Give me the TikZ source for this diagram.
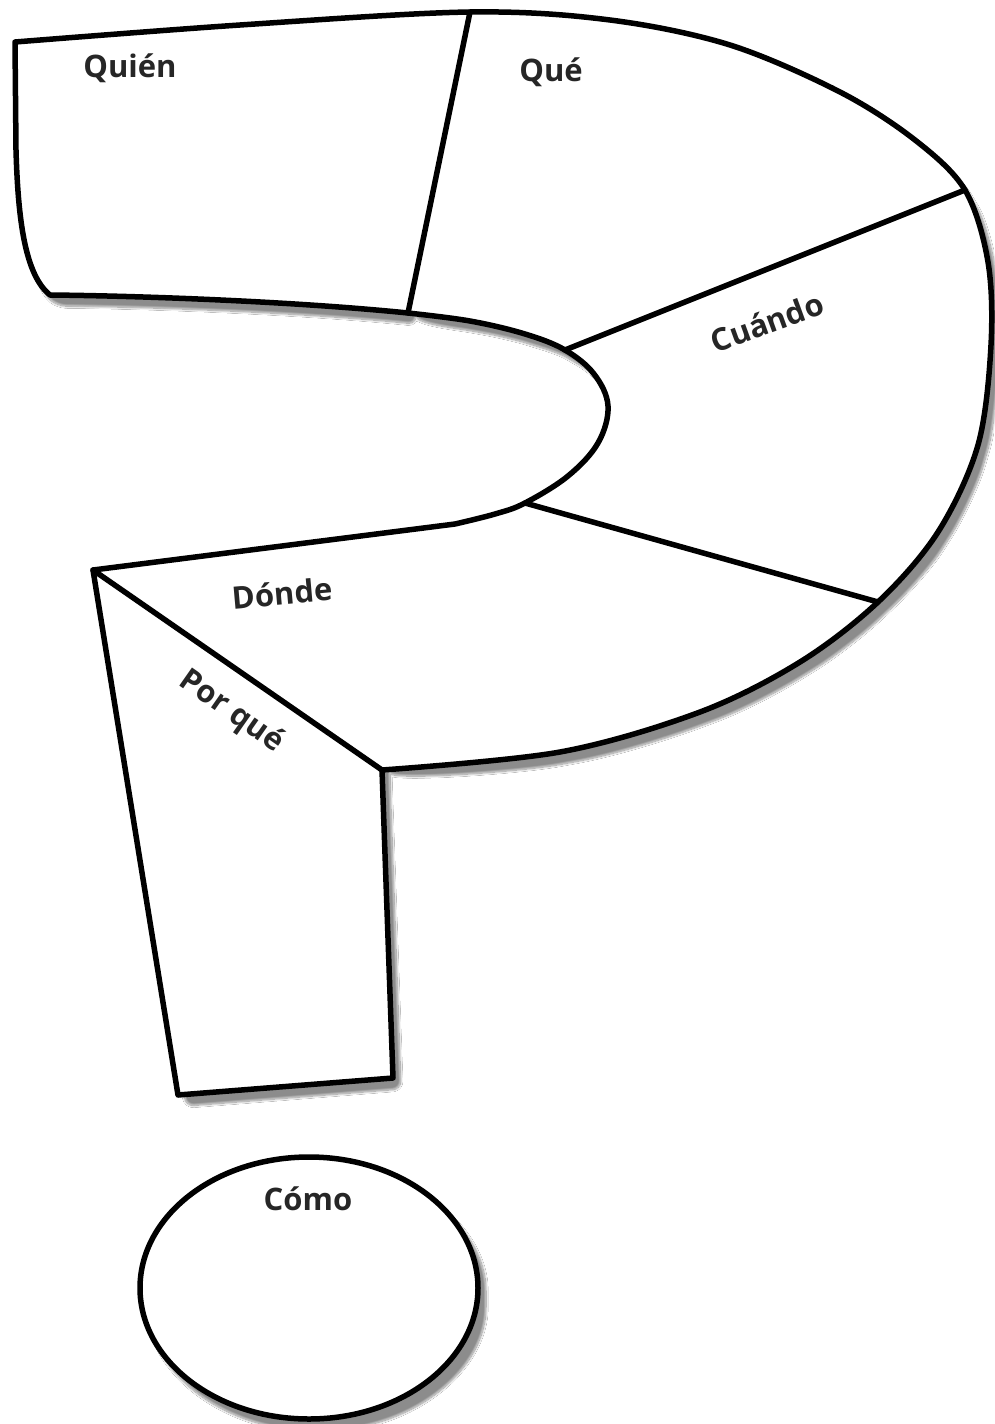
\documentclass[tikz,border=0pt]{standalone}
\usepackage{fontspec}
\setmainfont{Open Sans}
\usetikzlibrary{shadows.blur,shapes.geometric}
\tikzset{
  qshape/.style={draw=black, line width=5.5pt, line join=round, fill=white,
    blur shadow={shadow xshift=8pt, shadow yshift=-11pt, shadow opacity=45, shadow blur steps=14, shadow blur extra rounding=8pt}},
  divider/.style={draw=black, line width=5.5pt, line cap=round},
  lbl/.style={font=\fontsize{31}{34}\selectfont\bfseries, text=black!85, inner sep=0pt}
}
\begin{document}
\begin{tikzpicture}[x=1pt,y=-1pt]
\useasboundingbox (0,0) rectangle (994,1424);
\fill[white] (0,0) rectangle (994,1424);
% named points
\coordinate (tl) at (15,42);
\coordinate (q1) at (470,12);
\coordinate (q2) at (408,313);
\coordinate (c1) at (965,190);
\coordinate (c2) at (565,350);
\coordinate (d1) at (525,503);
\coordinate (d2) at (878,602);
\coordinate (hb) at (382,770);
\coordinate (pq) at (93,570);
\coordinate (sb) at (393,1078);
\coordinate (sl) at (178,1095);
\coordinate (qb) at (45,295);
% main question-mark body
\path[qshape]
  plot[smooth, tension=0.55] coordinates {(15,42) (240,25) (470,12) (610,20) (730,45) (840,92) (915,140) (965,190) (988,262) (991,345) (978,445) (938,532) (878,602) (800,662) (700,712) (560,752) (382,770)}
  -- (393,1078) -- (178,1095) -- (93,570) -- (455,524)
  -- plot[smooth, tension=0.6] coordinates {(455,524) (495,514) (525,503) (568,476) (598,443) (608,406) (594,374) (565,350) (525,334) (470,321) (408,313)}
  .. controls (300,302) and (150,296) .. (50,295)
  .. controls (25,275) and (18,220) .. (16,150) -- cycle;
% dividers
\draw[divider] (q1) -- (q2);
\draw[divider] (c1) -- (c2);
\draw[divider] (d1) -- (d2);
\draw[divider] (pq) -- (hb);
% dot
\node[qshape, ellipse, minimum width=338pt, minimum height=262pt, inner sep=0pt] (como) at (309,1288) {};
% labels
\node[lbl] (lquien) at (130,68) {Quién};
\node[lbl] (lque) at (551,72) {Qué};
\node[lbl, rotate=20] (lcuando) at (767,322) {Cuándo};
\node[lbl, rotate=5] (ldonde) at (282,593) {Dónde};
\node[lbl, rotate=-35] (lporque) at (231,712) {Por qué};
\node[lbl] (lcomo) at (308,1199) {Cómo};
\end{tikzpicture}
\end{document}
